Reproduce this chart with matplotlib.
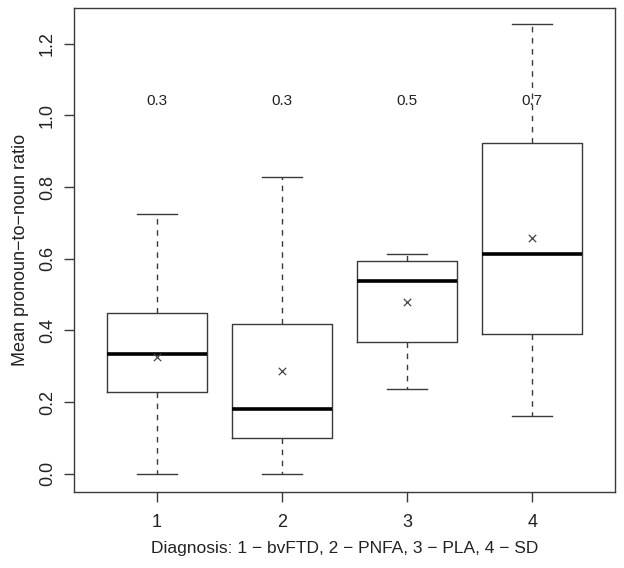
import matplotlib
matplotlib.use("Agg")
import matplotlib.pyplot as plt

plt.rcParams['font.family'] = ['Liberation Sans', 'DejaVu Sans']

grupos = [1, 2, 3, 4]
whislo = [0.0, 0.0, 0.237, 0.160]
q1 = [0.227, 0.100, 0.369, 0.389]
medianas = [0.335, 0.182, 0.538, 0.613]
q3 = [0.449, 0.419, 0.593, 0.923]
whishi = [0.726, 0.827, 0.613, 1.254]
medias = [0.326, 0.286, 0.480, 0.659]
rotulos_medias = ["0.3", "0.3", "0.5", "0.7"]

stats = []
for i in range(len(grupos)):
    stats.append({"whislo": whislo[i], "q1": q1[i], "med": medianas[i],
                  "q3": q3[i], "whishi": whishi[i], "fliers": []})

cinza = "#3a3a3a"

fig = plt.figure(figsize=(6.24, 5.68), dpi=100)
ax = fig.add_axes([0.1186, 0.1343, 0.867, 0.8516])

ax.bxp(stats, positions=grupos, widths=0.8, showfliers=False, patch_artist=False,
       boxprops=dict(color=cinza, linewidth=1.0),
       whiskerprops=dict(color=cinza, linewidth=1.0, linestyle=(0, (4, 4))),
       capprops=dict(color=cinza, linewidth=1.0),
       medianprops=dict(color="black", linewidth=2.6),
       capwidths=0.32)

ax.scatter(grupos, medias, marker="x", color="#444444", s=28, linewidths=0.9, zorder=5)

for x, t in zip(grupos, rotulos_medias):
    ax.text(x, 1.04, t, ha="center", va="center", fontsize=11, color="#222222")

ax.set_xlim(0.34, 4.66)
ax.set_ylim(-0.05, 1.30)
ax.set_xticks(grupos)
ax.set_xticklabels([str(g) for g in grupos])
ax.set_yticks([0.0, 0.2, 0.4, 0.6, 0.8, 1.0, 1.2])
ax.set_yticklabels(["0.0", "0.2", "0.4", "0.6", "0.8", "1.0", "1.2"], rotation=90, va="center")
ax.tick_params(axis="both", direction="out", length=7, width=1.0, color=cinza,
               labelsize=13, labelcolor="#222222")
ax.tick_params(axis="x", pad=9)
ax.tick_params(axis="y", pad=6)
for s in ax.spines.values():
    s.set_color(cinza)
    s.set_linewidth(1.0)

ax.set_xlabel("Diagnosis: 1 \u2212 bvFTD, 2 \u2212 PNFA, 3 \u2212 PLA, 4 \u2212 SD",
              fontsize=12.5, color="#222222", labelpad=7)
ax.set_ylabel("Mean pronoun\u2212to\u2212noun ratio", fontsize=13, color="#222222", labelpad=7)

fig.savefig("out.png", dpi=100)
